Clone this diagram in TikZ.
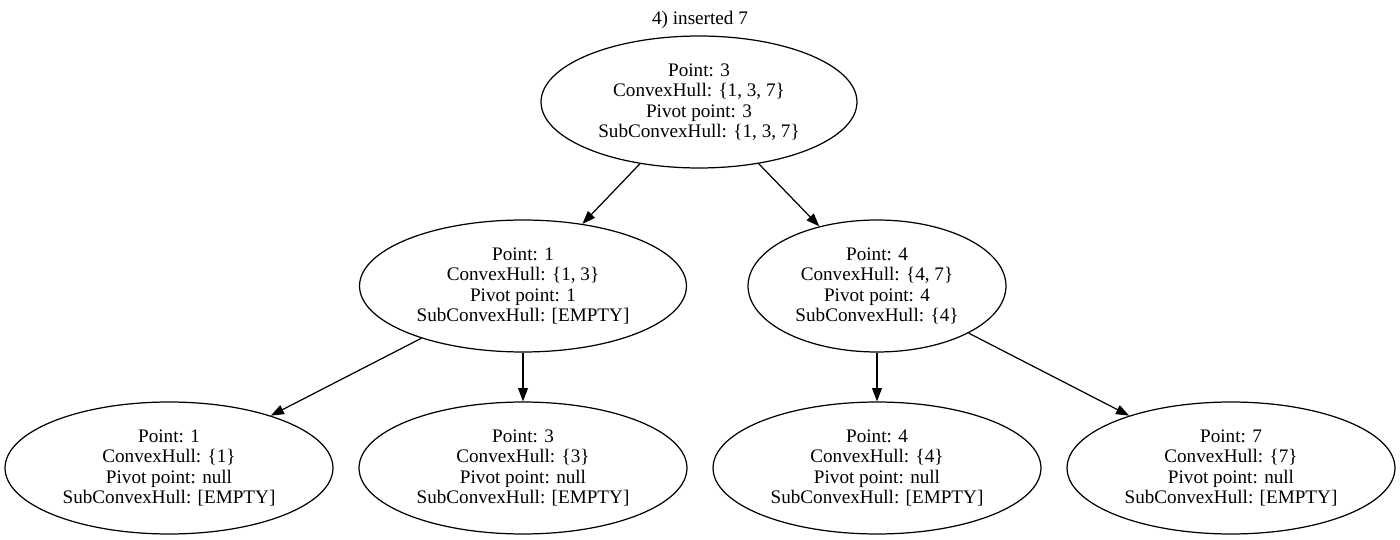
\documentclass[tikz,border=0pt]{standalone}
\usepackage{fontspec}
\setmainfont{Liberation Serif}
\usetikzlibrary{shapes.geometric,arrows.meta}
\begin{document}
\begin{tikzpicture}[x=0.02cm,y=-0.02cm,
	hullnode/.style={ellipse,draw,line width=0.7pt,inner sep=0pt,minimum height=2.64cm,align=center,font=\fontsize{10.9}{11.7}\selectfont},
	treeedge/.style={-{Triangle[length=7.5pt,width=5.5pt]},line width=0.7pt}]
	\useasboundingbox (0,0) rectangle (1400,540);
	\node [font=\fontsize{10.9}{11.7}\selectfont] (title) at (700,20) {4) inserted 7};

	\node [hullnode,minimum width=6.32cm] (root) at (699,102) {Point: 3\\ConvexHull: \{1, 3, 7\}\\Pivot point: 3\\SubConvexHull: \{1, 3, 7\}};
	\node [hullnode,minimum width=6.54cm] (n1) at (523,286) {Point: 1\\ConvexHull: \{1, 3\}\\Pivot point: 1\\SubConvexHull: [EMPTY]};
	\node [hullnode,minimum width=5.16cm] (n4) at (877,286) {Point: 4\\ConvexHull: \{4, 7\}\\Pivot point: 4\\SubConvexHull: \{4\}};

	% leaves
	\foreach \p/\x in {1/169,3/523,4/877,7/1231}
		\node [hullnode,minimum width=6.56cm] (l\p) at (\x,468) {Point: \p\\ConvexHull: \{\p\}\\Pivot point: null\\SubConvexHull: [EMPTY]};

	\draw [treeedge] (root) -- (n1);
	\draw [treeedge] (root) -- (n4);
	\foreach \a/\b in {n1/l1,n1/l3,n4/l4,n4/l7}
		\draw [treeedge] (\a) -- (\b);
\end{tikzpicture}
\end{document}
